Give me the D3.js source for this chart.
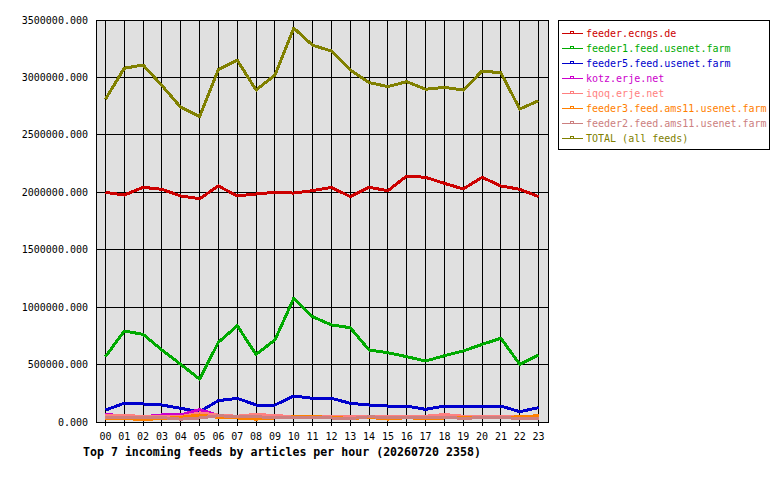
<!DOCTYPE html>
<html>
<head>
<meta charset="utf-8">
<script src="https://cdn.jsdelivr.net/npm/d3@7"></script>
<style>
  body { margin: 0; background: #fff; }
  text { font-family: "DejaVu Sans Mono", monospace; }
</style>
</head>
<body>
<svg id="chart" width="780" height="480"></svg>
<script>
var hours = ["00","01","02","03","04","05","06","07","08","09","10","11",
             "12","13","14","15","16","17","18","19","20","21","22","23"];

var feedNames = ["feeder.ecngs.de", "feeder1.feed.usenet.farm", "feeder5.feed.usenet.farm",
                 "kotz.erje.net", "iqoq.erje.net", "feeder3.feed.ams11.usenet.farm",
                 "feeder2.feed.ams11.usenet.farm", "TOTAL (all feeds)"];
var feedColors = ["#cc0000", "#00aa00", "#0000cc", "#cc00cc", "#ff8080", "#ff8000", "#cc8080", "#808000"];

var ecngs = [2000000,1976000,2043000,2026000,1968000,1944000,2055000,1968000,1985000,2000000,1993000,2014000,
             2043000,1962000,2043000,2014000,2142000,2130000,2078000,2029000,2130000,2055000,2026000,1962000];
var feeder1 = [569000,792000,763000,627000,502000,374000,694000,838000,589000,714000,1077000,917000,
               845000,821000,627000,603000,569000,531000,577000,618000,676000,729000,502000,583000];
var feeder5 = [104000,163000,157000,148000,119000,90000,186000,206000,148000,148000,226000,206000,
               206000,163000,148000,139000,139000,110000,139000,139000,139000,139000,90000,125000];
var kotz = [65000,55000,45000,62000,62000,108000,58000,40000,40000,35000,35000,38000,
            35000,35000,38000,38000,35000,35000,38000,35000,35000,35000,35000,35000];
var iqoq = [58000,58000,48000,48000,45000,80000,60000,50000,68000,55000,48000,45000,
            50000,48000,50000,50000,50000,50000,65000,50000,48000,50000,50000,48000];
var feeder3 = [30000,30000,22000,30000,41000,61000,40000,35000,25000,35000,45000,45000,
               42000,30000,40000,25000,38000,28000,35000,38000,40000,40000,45000,55000];
var feeder2 = [40000,40000,40000,38000,25000,35000,55000,45000,45000,40000,35000,40000,
               35000,30000,45000,40000,38000,40000,40000,32000,38000,40000,30000,32000];
var total = [2810000,3080000,3108000,2930000,2740000,2660000,3070000,3150000,2890000,3020000,3430000,3280000,
             3230000,3065000,2955000,2920000,2963000,2897000,2914000,2890000,3056000,3040000,2725000,2797000];

var series = [ecngs, feeder1, feeder5, kotz, iqoq, feeder3, feeder2, total];
var yTicks = [0,500000,1000000,1500000,2000000,2500000,3000000,3500000];

var svg = d3.select("#chart");
var plotLeft = 96, plotRight = 548, plotTop = 20, plotBottom = 422;

var x = d3.scalePoint().domain(hours).range([plotLeft, plotRight]).padding(0.5);
var y = d3.scaleLinear().domain([0, 3500000]).range([plotBottom, plotTop]);

// plot background
svg.append("rect")
   .attr("x", plotLeft).attr("y", plotTop)
   .attr("width", plotRight - plotLeft).attr("height", plotBottom - plotTop)
   .attr("fill", "#e0e0e0");

// grid
var grid = svg.append("g").attr("shape-rendering", "crispEdges").attr("stroke", "#000");
grid.selectAll(".hgrid").data(yTicks).enter().append("line")
    .attr("x1", plotLeft).attr("x2", plotRight)
    .attr("y1", function(d) { return y(d); })
    .attr("y2", function(d) { return y(d); });
grid.selectAll(".vgrid").data(hours).enter().append("line")
    .attr("x1", function(d) { return x(d); })
    .attr("x2", function(d) { return x(d); })
    .attr("y1", plotTop).attr("y2", plotBottom + 4);

svg.append("rect")
   .attr("x", plotLeft).attr("y", plotTop)
   .attr("width", plotRight - plotLeft).attr("height", plotBottom - plotTop)
   .attr("fill", "none").attr("stroke", "#000")
   .attr("shape-rendering", "crispEdges");

// y labels
svg.append("g").selectAll("text").data(yTicks).enter().append("text")
   .attr("x", 88)
   .attr("y", function(d) { return y(d); })
   .attr("dy", "0.35em")
   .attr("text-anchor", "end")
   .attr("font-size", "10px")
   .text(function(d) { return d3.format(".3f")(d); });

// x labels
svg.append("g").selectAll("text").data(hours).enter().append("text")
   .attr("x", function(d) { return x(d); })
   .attr("y", 440)
   .attr("text-anchor", "middle")
   .attr("font-size", "10px")
   .text(function(d) { return d; });

// lines
var line = d3.line()
    .x(function(d, i) { return x(hours[i]); })
    .y(function(d) { return y(d); });

svg.append("g").selectAll("path").data(series).enter().append("path")
   .attr("d", line)
   .attr("fill", "none")
   .attr("stroke", function(d, i) { return feedColors[i]; })
   .attr("stroke-width", 3)
   .attr("stroke-linejoin", "round")
   .attr("shape-rendering", "crispEdges");

// title
svg.append("text")
   .attr("x", 83).attr("y", 456)
   .attr("font-size", "11.6px")
   .attr("font-weight", "bold")
   .text("Top 7 incoming feeds by articles per hour (20260720 2358)");

// legend
var legend = svg.append("g");
legend.append("rect")
   .attr("x", 558.5).attr("y", 20.5)
   .attr("width", 211).attr("height", 129)
   .attr("fill", "#fff").attr("stroke", "#000");

var items = legend.selectAll(".item").data(feedNames).enter().append("g")
   .attr("transform", function(d, i) { return "translate(0," + (33.5 + i * 15) + ")"; });
items.append("line")
   .attr("x1", 562).attr("x2", 583)
   .attr("stroke", function(d, i) { return feedColors[i]; })
   .attr("shape-rendering", "crispEdges");
items.append("rect")
   .attr("x", 570.5).attr("y", -2.5).attr("width", 3).attr("height", 2)
   .attr("fill", "none")
   .attr("stroke", function(d, i) { return feedColors[i]; })
   .attr("shape-rendering", "crispEdges");
items.append("text")
   .attr("x", 586).attr("y", 0)
   .attr("dy", "0.32em")
   .attr("font-size", "10px")
   .attr("fill", function(d, i) { return feedColors[i]; })
   .text(function(d) { return d; });
</script>
</body>
</html>
